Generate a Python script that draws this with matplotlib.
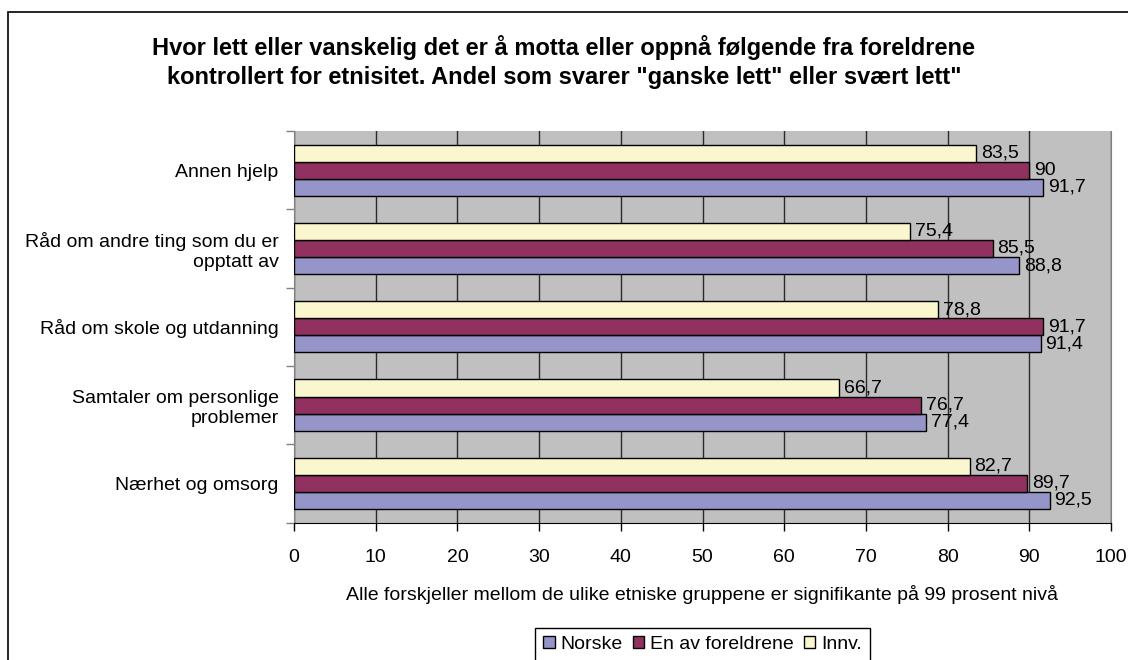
import matplotlib
matplotlib.use('Agg')
import matplotlib.pyplot as plt
import numpy as np
from matplotlib.patches import Rectangle

plt.rcParams['font.family'] = ['Liberation Sans', 'DejaVu Sans']

# bottom to top, as drawn
categories = [
    'Nærhet og omsorg',
    'Samtaler om personlige\nproblemer',
    'Råd om skole og utdanning',
    'Råd om andre ting som du er\nopptatt av',
    'Annen hjelp',
]
series = ['Norske', 'En av foreldrene', 'Innv.']
norske = [92.5, 77.4, 91.4, 88.8, 91.7]
en_av = [89.7, 76.7, 91.7, 85.5, 90]
innv = [82.7, 66.7, 78.8, 75.4, 83.5]
colors = ['#9595C9', '#913160', '#FAF6CE']

title = ('Hvor lett eller vanskelig det er å motta eller oppnå følgende fra foreldrene\n'
         'kontrollert for etnisitet. Andel som svarer "ganske lett" eller svært lett"')
note = 'Alle forskjeller mellom de ulike etniske gruppene er signifikante på 99 prosent nivå'


def fmt(v):
    s = f'{v:.1f}'.replace('.', ',')
    return s[:-2] if s.endswith(',0') else s


fig = plt.figure(figsize=(11.28, 6.6), dpi=100)
ax = fig.add_axes([294 / 1128, 1 - 522.5 / 660, (1111 - 294) / 1128, (522.5 - 131) / 660])
ax.set_facecolor('#C0C0C0')

y = np.arange(len(categories))
h = 0.218
offsets = [-h, 0, h]
for vals, col, off, name in zip([norske, en_av, innv], colors, offsets, series):
    bars = ax.barh(y + off, vals, height=h, color=col, edgecolor='black',
                   linewidth=1.0, label=name, zorder=3)
    for b, v in zip(bars, vals):
        ax.annotate(fmt(v), (b.get_width(), b.get_y() + b.get_height() / 2),
                    xytext=(3.5, 0), textcoords='offset points',
                    ha='left', va='center', fontsize=14, zorder=4)

ax.set_xlim(0, 100)
ax.set_ylim(-0.5, len(categories) - 0.5)
ax.set_xticks(np.arange(0, 101, 10))
ax.xaxis.grid(True, color='#2a2a2a', linewidth=1.0, zorder=0)
ax.set_axisbelow(True)
ax.tick_params(axis='x', length=6, width=1, color='black', labelsize=14, pad=13)

ax.set_yticks(np.arange(-0.5, len(categories), 1.0))
ax.set_yticklabels([])
ax.set_yticks(y, minor=True)
ax.set_yticklabels(categories, minor=True, fontsize=14)
ax.tick_params(axis='y', which='major', length=6, width=1, color='#808080')
ax.tick_params(axis='y', which='minor', length=0, pad=11)

ax.spines['top'].set_visible(False)
ax.spines['left'].set_color('#808080')
ax.spines['right'].set_color('#808080')
ax.spines['bottom'].set_color('black')

ax.set_xlabel(note, fontsize=14, labelpad=14)

fig.text(564 / 1128, 1 - 62 / 660, title, ha='center', va='center',
         fontsize=17, fontweight='bold', linespacing=1.32)

fig.legend(loc='upper center', bbox_to_anchor=(702.5 / 1128, 1 - 628 / 660),
           ncol=3, fontsize=14, frameon=True, fancybox=False, edgecolor='black',
           framealpha=1, handlelength=0.6, handleheight=0.6, handletextpad=0.3,
           columnspacing=0.5, borderpad=0.4, borderaxespad=0)

fig.add_artist(Rectangle((8 / 1128, -0.05), 1.2, 1 - 12 / 660 + 0.05,
                         transform=fig.transFigure, fill=False,
                         edgecolor='black', linewidth=1.2))

fig.savefig('out.png', dpi=100)
